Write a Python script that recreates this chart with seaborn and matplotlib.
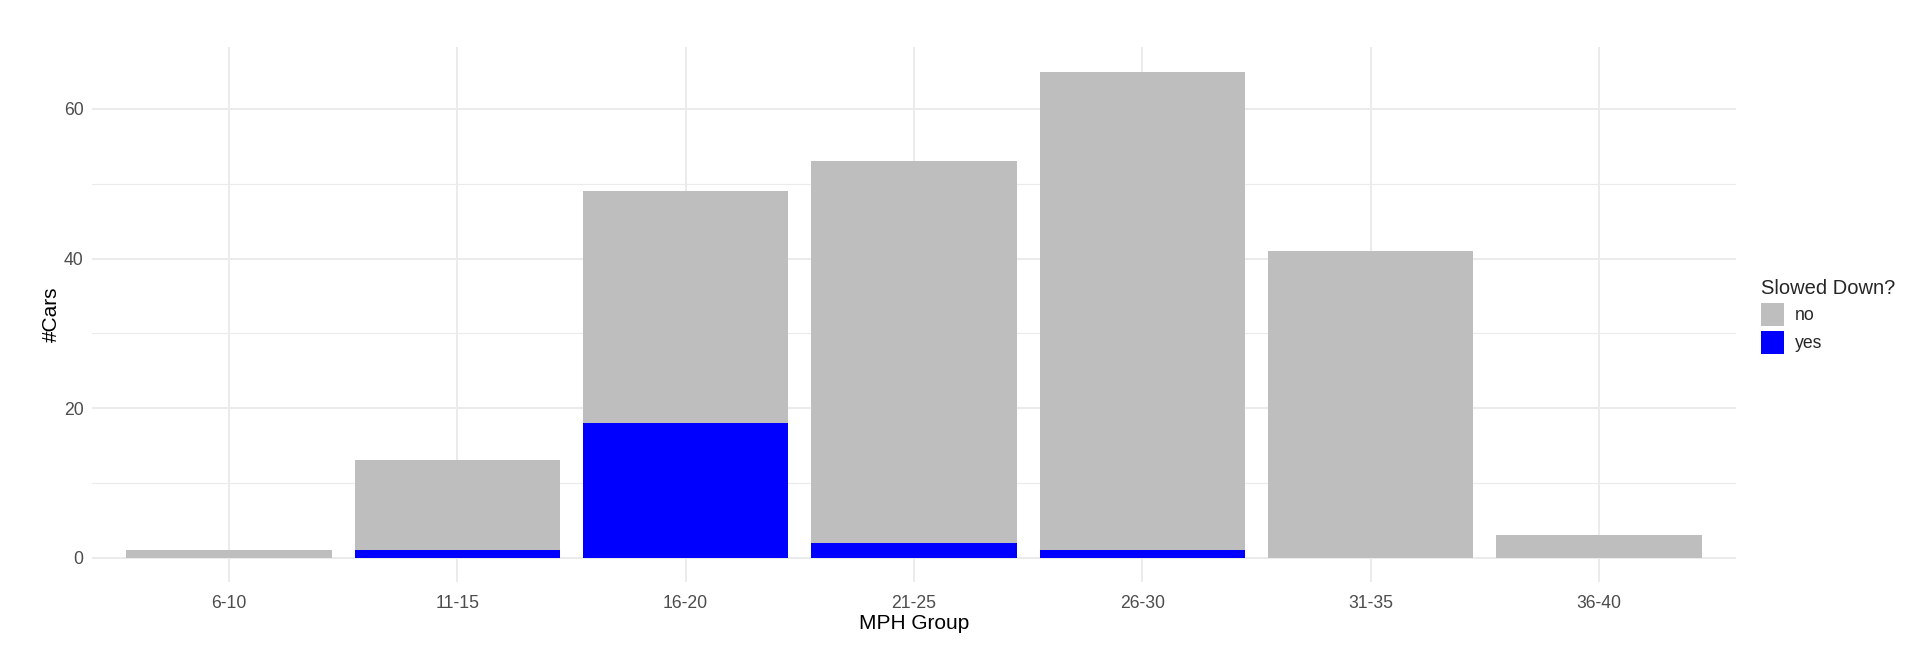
import matplotlib
matplotlib.use("Agg")
import matplotlib.pyplot as plt
from matplotlib.patches import Patch
from matplotlib.ticker import MultipleLocator
import pandas as pd
import seaborn as sns

# data
mph_groups = ["6-10", "11-15", "16-20", "21-25", "26-30", "31-35", "36-40"]
cars_no = [1, 12, 31, 51, 64, 41, 3]
cars_yes = [0, 1, 18, 2, 1, 0, 0]

GREY = "#BEBEBE"
BLUE = "#0000FF"
GRID = "#EBEBEB"

df = pd.DataFrame({"group": mph_groups, "no": cars_no, "yes": cars_yes})
df["total"] = df["no"] + df["yes"]

sns.set_theme(style="white")
plt.rcParams["font.family"] = ["Liberation Sans", "DejaVu Sans"]

fig = plt.figure(figsize=(19.24, 6.64), dpi=100)
ax = fig.add_axes([92 / 1924, 1 - 582 / 664, (1736 - 92) / 1924, (582 - 47.3) / 664])

# stacked bars: total in grey, "yes" part drawn over it from zero
sns.barplot(data=df, x="group", y="total", color=GREY, width=0.9,
            saturation=1, linewidth=0, ax=ax, zorder=2)
sns.barplot(data=df, x="group", y="yes", color=BLUE, width=0.9,
            saturation=1, linewidth=0, ax=ax, zorder=3)

ax.set_xlim(-0.6, 6.6)
ax.set_ylim(-3.25, 68.25)
ax.yaxis.set_major_locator(MultipleLocator(20))
ax.yaxis.set_minor_locator(MultipleLocator(10))
ax.grid(True, which="major", color=GRID, linewidth=1.4, zorder=0)
ax.grid(True, which="minor", axis="y", color=GRID, linewidth=0.8, zorder=0)
ax.set_axisbelow(True)
for s in ax.spines.values():
    s.set_visible(False)

ax.tick_params(axis="both", which="both", length=0, labelsize=12.7,
               labelcolor="#4D4D4D")
ax.tick_params(axis="x", pad=9)
ax.tick_params(axis="y", pad=6)
ax.set_xlabel("MPH Group", fontsize=15, color="black", labelpad=2)
ax.set_ylabel("#Cars", fontsize=15, color="black", labelpad=2)

# legend keys ~23 px squares
handles = [Patch(facecolor=GREY, edgecolor="none", label="no"),
           Patch(facecolor=BLUE, edgecolor="none", label="yes")]
leg = fig.legend(handles=handles, title="Slowed Down?", loc="upper left",
                 bbox_to_anchor=(1761 / 1924, 1 - 279 / 664), frameon=False,
                 fontsize=12.7, title_fontsize=14.5, borderpad=0,
                 handlelength=1.32, handleheight=1.65, labelspacing=0.28,
                 handletextpad=0.6, borderaxespad=0)
leg._legend_box.align = "left"

fig.savefig("out.png", dpi=100, facecolor="white")
